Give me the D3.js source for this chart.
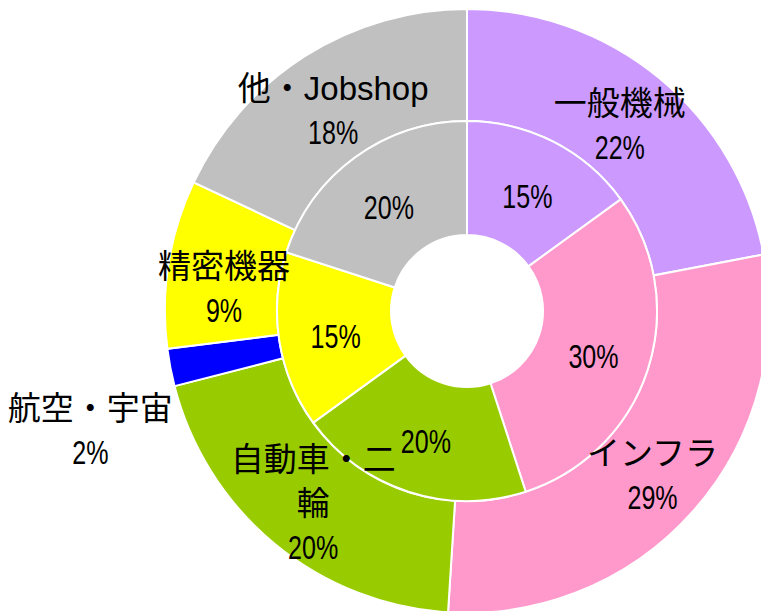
<!DOCTYPE html>
<html>
<head>
<meta charset="utf-8">
<script src="https://cdn.jsdelivr.net/npm/d3@7"></script>
<style>
  body { margin: 0; background: #fff; }
  text { font-family: "Liberation Sans", Arial, "Noto Sans CJK JP", sans-serif; font-size: 33px; fill: #000; }
</style>
</head>
<body>
<div id="app"></div>
<script>
'use strict'
// outer ring
const outerNames = ['一般機械', 'インフラ', '自動車・二輪', '航空・宇宙', '精密機器', '他・Jobshop']
const outerValues = [22, 29, 20, 2, 9, 18]
// inner ring (no aviation share)
const innerNames = ['一般機械', 'インフラ', '自動車・二輪', '精密機器', '他・Jobshop']
const innerValues = [15, 30, 20, 15, 20]

const colors = {
  '一般機械': '#cc99ff',
  'インフラ': '#ff99cc',
  '自動車・二輪': '#99cc00',
  '航空・宇宙': '#0000ff',
  '精密機器': '#ffff00',
  '他・Jobshop': '#c0c0c0'
}
// how the outer labels wrap, and small nudges like excel did
const labelLines = {
  '一般機械': ['一般機械'],
  'インフラ': ['インフラ'],
  '自動車・二輪': ['自動車・二', '輪'],
  '航空・宇宙': ['航空・宇宙'],
  '精密機器': ['精密機器'],
  '他・Jobshop': ['他・Jobshop']
}
const nudge = {
  '一般機械': [-4, 4],
  'インフラ': [1, 1],
  '自動車・二輪': [3, 2],
  '航空・宇宙': [-135, 73],
  '精密機器': [0, 15],
  '他・Jobshop': [-2, 7]
}

const width = 761
const height = 611
const cx = 467
const cy = 311
const rHole = 76
const rMid = 190
const rOuter = 302
const lineH = 44

const svg = d3.select('#app').append('svg')
  .attr('width', width)
  .attr('height', height)

const g = svg.append('g').attr('transform', `translate(${cx},${cy})`)

const pie = d3.pie().sort(null).value(d => d.value)

const outerData = pie(outerNames.map((n, i) => ({ name: n, value: outerValues[i] })))
const innerData = pie(innerNames.map((n, i) => ({ name: n, value: innerValues[i] })))

const arcOuter = d3.arc().innerRadius(rMid).outerRadius(rOuter)
const arcInner = d3.arc().innerRadius(rHole).outerRadius(rMid)
const labelOuter = d3.arc().innerRadius((rMid + rOuter) / 2).outerRadius((rMid + rOuter) / 2)
const labelInner = d3.arc().innerRadius((rHole + rMid) / 2).outerRadius((rHole + rMid) / 2)

g.selectAll('path.outer')
  .data(outerData)
  .enter().append('path')
  .attr('class', 'outer')
  .attr('d', arcOuter)
  .style('fill', d => colors[d.data.name])
  .style('stroke', '#fff')
  .style('stroke-width', 2)

g.selectAll('path.inner')
  .data(innerData)
  .enter().append('path')
  .attr('class', 'inner')
  .attr('d', arcInner)
  .style('fill', d => colors[d.data.name])
  .style('stroke', '#fff')
  .style('stroke-width', 2)

// number lines are drawn narrower than the words
function addLine (sel, str, x, y, isNum) {
  sel.append('text')
    .attr('text-anchor', 'middle')
    .attr('transform', `translate(${x},${y})` + (isNum ? ' scale(0.76,1)' : ''))
    .text(str)
}

outerData.forEach(d => {
  const c = labelOuter.centroid(d)
  const nd = nudge[d.data.name]
  const x = c[0] + nd[0]
  const y = c[1] + nd[1]
  const lines = labelLines[d.data.name].concat([d.data.value + '%'])
  lines.forEach((s, i) => {
    const ly = y + (i - (lines.length - 1) / 2) * lineH + 12
    addLine(g, s, x, ly, i === lines.length - 1)
  })
})

innerData.forEach(d => {
  const c = labelInner.centroid(d)
  addLine(g, d.data.value + '%', c[0], c[1] + 16, true)
})
</script>
</body>
</html>
